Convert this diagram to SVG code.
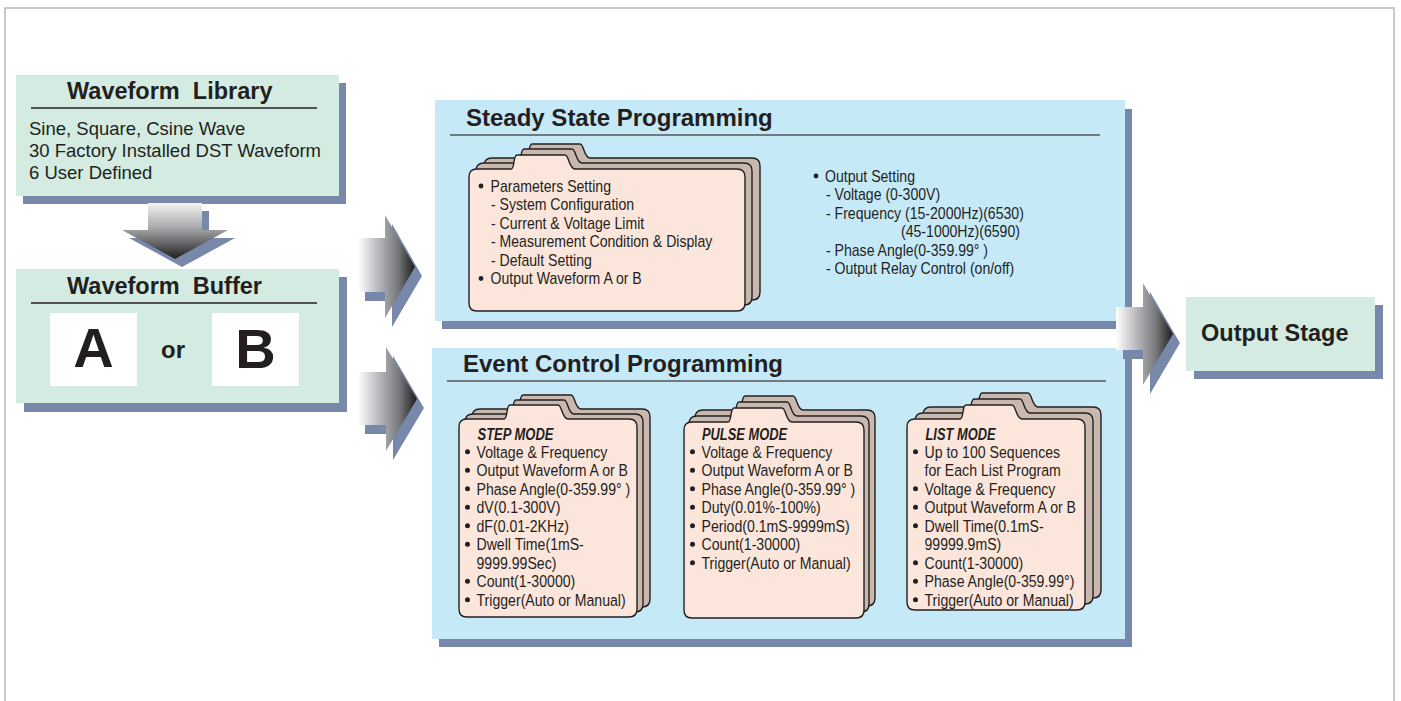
<svg xmlns="http://www.w3.org/2000/svg" width="1401" height="701" viewBox="0 0 1401 701">
<style>
.t{font-family:"Liberation Sans",Arial,sans-serif;fill:#231f20}
.ttl{font-size:23.5px;font-weight:bold;white-space:pre}
.lib{font-size:18.5px}
.pt{font-size:24px;font-weight:bold}
.fs{font-size:16px}
.fe{font-size:17px}
.hd{font-size:16px;font-weight:bold;font-style:italic}
.green{fill:#d3ebe0}
.blue{fill:#c6e9f8}
.shd{fill:#7888ab}
.rule{stroke:#231f20;stroke-width:1.3;fill:none}
.prule{stroke:#555;stroke-width:1.5;fill:none}
.fback{fill:#c9b8ae;stroke:#231f20;stroke-width:1.4}
.ffront{fill:#fce6dc;stroke:#231f20;stroke-width:1.4}
.big{font-weight:bold;text-anchor:middle}
.dot{fill:#231f20}
</style>
<defs>
<linearGradient id="gh" x1="0" y1="0" x2="1" y2="0">
<stop offset="0" stop-color="#ffffff"/>
<stop offset="0.35" stop-color="#b9babe"/>
<stop offset="0.7" stop-color="#77787b"/>
<stop offset="1" stop-color="#1c1c1c"/>
</linearGradient>
<linearGradient id="gv" x1="0" y1="0" x2="0" y2="1">
<stop offset="0" stop-color="#f4f4f4"/>
<stop offset="0.45" stop-color="#a6a7aa"/>
<stop offset="1" stop-color="#1f1f1f"/>
</linearGradient>
<path id="fSteady" d="M0,8 Q0,0 8,0 H42 C46,0 44,-14 48,-14 H96 C100,-14 100,0 106,0 H268 Q276,0 276,8 V134 Q276,142 268,142 H8 Q0,142 0,134 Z"/>
<path id="fStep" d="M0,8 Q0,0 8,0 H45 C49,0 47,-14 51,-14 H99 C103,-14 103,0 109,0 H170 Q178,0 178,8 V190 Q178,198 170,198 H8 Q0,198 0,190 Z"/>
<path id="fPulse" d="M0,8 Q0,0 8,0 H44 C48,0 46,-14 50,-14 H98 C102,-14 102,0 108,0 H172 Q180,0 180,8 V188 Q180,196 172,196 H8 Q0,196 0,188 Z"/>
<path id="fList" d="M0,8 Q0,0 8,0 H53 C57,0 55,-14 59,-14 H105 C109,-14 109,0 115,0 H170 Q178,0 178,8 V183 Q178,191 170,191 H8 Q0,191 0,183 Z"/>
</defs>

<g id="frame"><path d="M5,701 V8 H1394 V701" fill="none" stroke="#c9c9c9" stroke-width="2"/></g>

<g id="waveform-library">
<rect class="shd" x="23" y="83" width="323" height="121"/>
<rect class="green" x="16" y="75" width="323" height="121"/>
<text class="t ttl" x="67" y="99">Waveform  Library</text>
<line class="rule" x1="31" y1="108" x2="317" y2="108"/>
<text class="t lib" x="29" y="135">Sine, Square, Csine Wave</text>
<text class="t lib" x="29" y="157">30 Factory Installed DST Waveform</text>
<text class="t lib" x="29" y="179">6 User Defined</text>
</g>

<g id="waveform-buffer">
<rect class="shd" x="24" y="277" width="323" height="135"/>
<rect class="green" x="16" y="269" width="323" height="134"/>
<text class="t ttl" x="67" y="294">Waveform  Buffer</text>
<line class="rule" x1="31" y1="303" x2="317" y2="303"/>
<rect x="50" y="313" width="87" height="73" fill="#fff"/>
<rect x="212" y="313" width="87" height="73" fill="#fff"/>
<text class="t big" x="93.5" y="367" font-size="56">A</text>
<text class="t big" x="173" y="358" font-size="24">or</text>
<text class="t big" x="255.5" y="368" font-size="56">B</text>
</g>

<g id="steady-state">
<rect class="shd" x="442" y="109" width="690" height="220"/>
<rect class="blue" x="435" y="100" width="690" height="221"/>
<text class="t pt" x="466" y="126">Steady State Programming</text>
<line class="prule" x1="450" y1="135" x2="1100" y2="135"/>
<g id="steady-folder">
<use href="#fSteady" class="fback" transform="translate(484,158)"/>
<use href="#fSteady" class="fback" transform="translate(476,163)"/>
<use href="#fSteady" class="ffront" transform="translate(469,169)"/>
<circle class="dot" cx="481" cy="186" r="2.4"/>
<circle class="dot" cx="481" cy="278.5" r="2.4"/>
<g transform="translate(490.5,0) scale(0.88,1)">
<text class="t fs" x="0" y="192">Parameters Setting</text>
<text class="t fs" x="0.5" y="210.5">- System Configuration</text>
<text class="t fs" x="0.5" y="229">- Current &amp; Voltage Limit</text>
<text class="t fs" x="0.5" y="247.5">- Measurement Condition &amp; Display</text>
<text class="t fs" x="0.5" y="266">- Default Setting</text>
<text class="t fs" x="0" y="284.5">Output Waveform A or B</text>
</g>
</g>
<g id="output-setting">
<circle class="dot" cx="816" cy="176" r="2.4"/>
<g transform="translate(825,0) scale(0.88,1)">
<text class="t fs" x="0" y="182">Output Setting</text>
<text class="t fs" x="1.1" y="200.5">- Voltage (0-300V)</text>
<text class="t fs" x="1.1" y="219">- Frequency (15-2000Hz)(6530)</text>
<text class="t fs" x="86.4" y="237.5">(45-1000Hz)(6590)</text>
<text class="t fs" x="1.1" y="256">- Phase Angle(0-359.99° )</text>
<text class="t fs" x="1.1" y="274.5">- Output Relay Control (on/off)</text>
</g>
</g>
</g>

<g id="event-control">
<rect class="shd" x="439" y="357" width="693" height="290"/>
<rect class="blue" x="432" y="348" width="693" height="291"/>
<text class="t pt" x="463" y="372">Event Control Programming</text>
<line class="prule" x1="447" y1="381" x2="1106" y2="381"/>
<g id="step-mode">
<use href="#fStep" class="fback" transform="translate(472,409)"/>
<use href="#fStep" class="fback" transform="translate(465,414)"/>
<use href="#fStep" class="ffront" transform="translate(459,419)"/>
<text class="t hd" x="477.5" y="440" textLength="76" lengthAdjust="spacingAndGlyphs">STEP MODE</text>
<g class="dot">
<circle cx="467.5" cy="451.7" r="2.5"/><circle cx="467.5" cy="470.2" r="2.5"/><circle cx="467.5" cy="488.7" r="2.5"/><circle cx="467.5" cy="507.2" r="2.5"/><circle cx="467.5" cy="525.7" r="2.5"/><circle cx="467.5" cy="544.2" r="2.5"/><circle cx="467.5" cy="581.2" r="2.5"/><circle cx="467.5" cy="599.7" r="2.5"/>
</g>
<g transform="translate(476.5,0) scale(0.83,1)">
<text class="t fe" x="0" y="458">Voltage &amp; Frequency</text>
<text class="t fe" x="0" y="476.5">Output Waveform A or B</text>
<text class="t fe" x="0" y="495">Phase Angle(0-359.99° )</text>
<text class="t fe" x="0" y="513.5">dV(0.1-300V)</text>
<text class="t fe" x="0" y="532">dF(0.01-2KHz)</text>
<text class="t fe" x="0" y="550.5">Dwell Time(1mS-</text>
<text class="t fe" x="0" y="569">9999.99Sec)</text>
<text class="t fe" x="0" y="587.5">Count(1-30000)</text>
<text class="t fe" x="0" y="606">Trigger(Auto or Manual)</text>
</g>
</g>
<g id="pulse-mode">
<use href="#fPulse" class="fback" transform="translate(695,410)"/>
<use href="#fPulse" class="fback" transform="translate(689,416)"/>
<use href="#fPulse" class="ffront" transform="translate(684,422)"/>
<text class="t hd" x="702" y="440" textLength="85" lengthAdjust="spacingAndGlyphs">PULSE MODE</text>
<g class="dot">
<circle cx="692.5" cy="451.7" r="2.5"/><circle cx="692.5" cy="470.2" r="2.5"/><circle cx="692.5" cy="488.7" r="2.5"/><circle cx="692.5" cy="507.2" r="2.5"/><circle cx="692.5" cy="525.7" r="2.5"/><circle cx="692.5" cy="544.2" r="2.5"/><circle cx="692.5" cy="562.7" r="2.5"/>
</g>
<g transform="translate(701.5,0) scale(0.83,1)">
<text class="t fe" x="0" y="458">Voltage &amp; Frequency</text>
<text class="t fe" x="0" y="476.5">Output Waveform A or B</text>
<text class="t fe" x="0" y="495">Phase Angle(0-359.99° )</text>
<text class="t fe" x="0" y="513.5">Duty(0.01%-100%)</text>
<text class="t fe" x="0" y="532">Period(0.1mS-9999mS)</text>
<text class="t fe" x="0" y="550.5">Count(1-30000)</text>
<text class="t fe" x="0" y="569">Trigger(Auto or Manual)</text>
</g>
</g>
<g id="list-mode">
<use href="#fList" class="fback" transform="translate(923,407)"/>
<use href="#fList" class="fback" transform="translate(915,413)"/>
<use href="#fList" class="ffront" transform="translate(907,419)"/>
<text class="t hd" x="925.5" y="440" textLength="70" lengthAdjust="spacingAndGlyphs">LIST MODE</text>
<g class="dot">
<circle cx="915.5" cy="451.7" r="2.5"/><circle cx="915.5" cy="488.7" r="2.5"/><circle cx="915.5" cy="507.2" r="2.5"/><circle cx="915.5" cy="525.7" r="2.5"/><circle cx="915.5" cy="562.7" r="2.5"/><circle cx="915.5" cy="581.2" r="2.5"/><circle cx="915.5" cy="599.7" r="2.5"/>
</g>
<g transform="translate(924.5,0) scale(0.83,1)">
<text class="t fe" x="0" y="458">Up to 100 Sequences</text>
<text class="t fe" x="0" y="476.5">for Each List Program</text>
<text class="t fe" x="0" y="495">Voltage &amp; Frequency</text>
<text class="t fe" x="0" y="513.5">Output Waveform A or B</text>
<text class="t fe" x="0" y="532">Dwell Time(0.1mS-</text>
<text class="t fe" x="0" y="550.5">99999.9mS)</text>
<text class="t fe" x="0" y="569">Count(1-30000)</text>
<text class="t fe" x="0" y="587.5">Phase Angle(0-359.99°)</text>
<text class="t fe" x="0" y="606">Trigger(Auto or Manual)</text>
</g>
</g>
</g>

<g id="output-stage">
<rect class="shd" x="1194" y="305" width="189" height="74"/>
<rect class="green" x="1186" y="297" width="189" height="74"/>
<text class="t" x="1201" y="341" font-size="23.5" font-weight="bold">Output Stage</text>
</g>

<g id="connectors">
<g id="arrow-library-buffer">
<path class="shd" transform="translate(7,8)" d="M148,203 H202 V230 H228 L175,259 L122,230 H148 Z"/>
<path fill="url(#gv)" d="M148,203 H202 V230 H228 L175,259 L122,230 H148 Z"/>
</g>
<g id="arrow-buffer-steady">
<path class="shd" transform="translate(7,9)" d="M358,238 H385 V215 L415,267 L385,318 V292 H358 Z"/>
<path fill="url(#gh)" d="M358,238 H385 V215 L415,267 L385,318 V292 H358 Z"/>
</g>
<g id="arrow-buffer-event">
<path class="shd" transform="translate(7,9)" d="M358,372 H386 V347 L417,399 L386,451 V425 H358 Z"/>
<path fill="url(#gh)" d="M358,372 H386 V347 L417,399 L386,451 V425 H358 Z"/>
</g>
<g id="arrow-program-output">
<path class="shd" transform="translate(7,9)" d="M1116,307 H1143 V283 L1173,334 L1143,385 V350 H1116 Z"/>
<path fill="url(#gh)" d="M1116,307 H1143 V283 L1173,334 L1143,385 V350 H1116 Z"/>
</g>
</g>
</svg>
